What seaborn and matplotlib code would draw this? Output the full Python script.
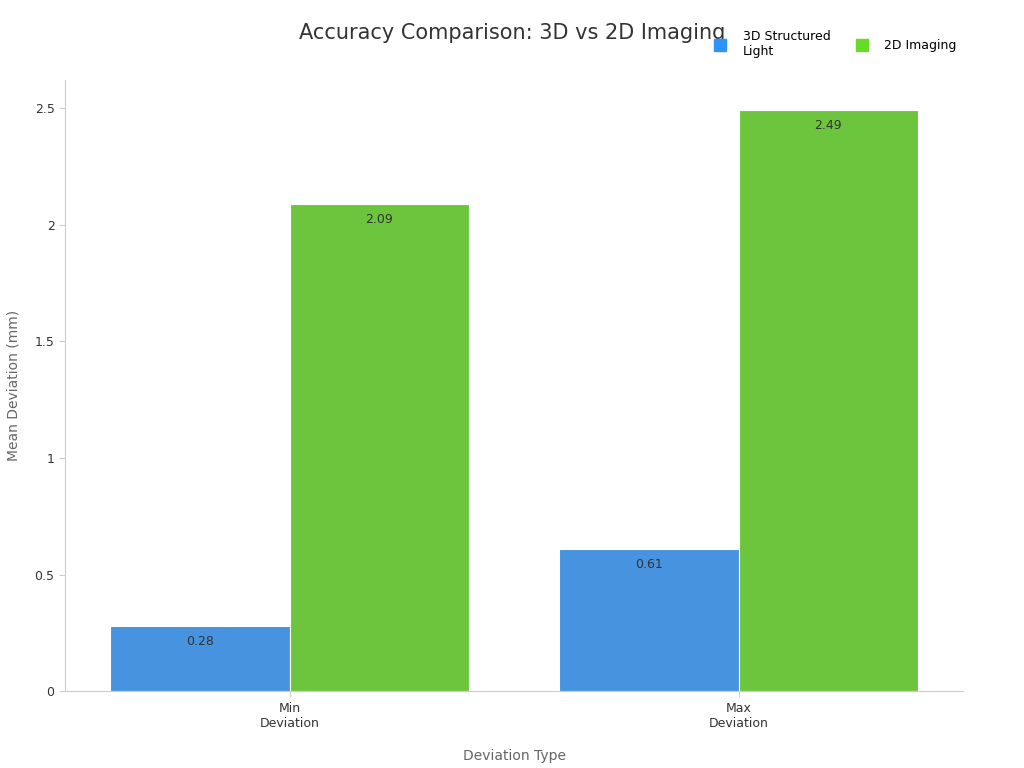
import matplotlib
matplotlib.use("Agg")
import matplotlib.pyplot as plt
import seaborn as sns
import pandas as pd
from matplotlib.lines import Line2D

categories = ["Min\nDeviation", "Max\nDeviation"]
series = ["3D Structured\nLight", "2D Imaging"]
vals_3d = [0.28, 0.61]
vals_2d = [2.09, 2.49]
colors = ["#2E93F8", "#66DB28"]

df = pd.DataFrame({
    "cat": categories * 2,
    "series": [series[0]] * 2 + [series[1]] * 2,
    "val": vals_3d + vals_2d,
})

fig = plt.figure(figsize=(10.24, 7.68), dpi=100)
ax = fig.add_axes([0.0635, 0.100, 0.877, 0.796])
sns.barplot(data=df, x="cat", y="val", hue="series", palette=colors,
            width=0.8, ax=ax, legend=False, edgecolor="white", linewidth=0.8)
for c in ax.containers:
    ax.bar_label(c, labels=[f"{v:.2f}" for v in c.datavalues], padding=-16,
                 fontsize=9, color="#333333")
ax.set_ylim(0, 2.62)
ax.set_yticks([0, 0.5, 1, 1.5, 2, 2.5])
ax.set_yticklabels(["0", "0.5", "1", "1.5", "2", "2.5"])
ax.set_xlim(-0.5, 1.5)
ax.tick_params(labelsize=9, colors="#333333", length=4)
ax.tick_params(axis="both", color="#cccccc")
for s in ["top", "right"]:
    ax.spines[s].set_visible(False)
for s in ["left", "bottom"]:
    ax.spines[s].set_color("#cccccc")
ax.set_xlabel("Deviation Type", fontsize=10, color="#666666", labelpad=14)
ax.set_ylabel("Mean Deviation (mm)", fontsize=10, color="#666666", labelpad=10)
fig.text(0.5, 0.957, "Accuracy Comparison: 3D vs 2D Imaging", ha="center", va="center",
         fontsize=15, color="#333333")
handles = [Line2D([], [], marker="s", linestyle="", markersize=9, color=c) for c in colors]
fig.legend(handles, series, loc="upper right", bbox_to_anchor=(0.945, 0.975), ncol=2,
           frameon=False, fontsize=9, handletextpad=0.8, columnspacing=1.5)
fig.savefig("out.png", dpi=100)
